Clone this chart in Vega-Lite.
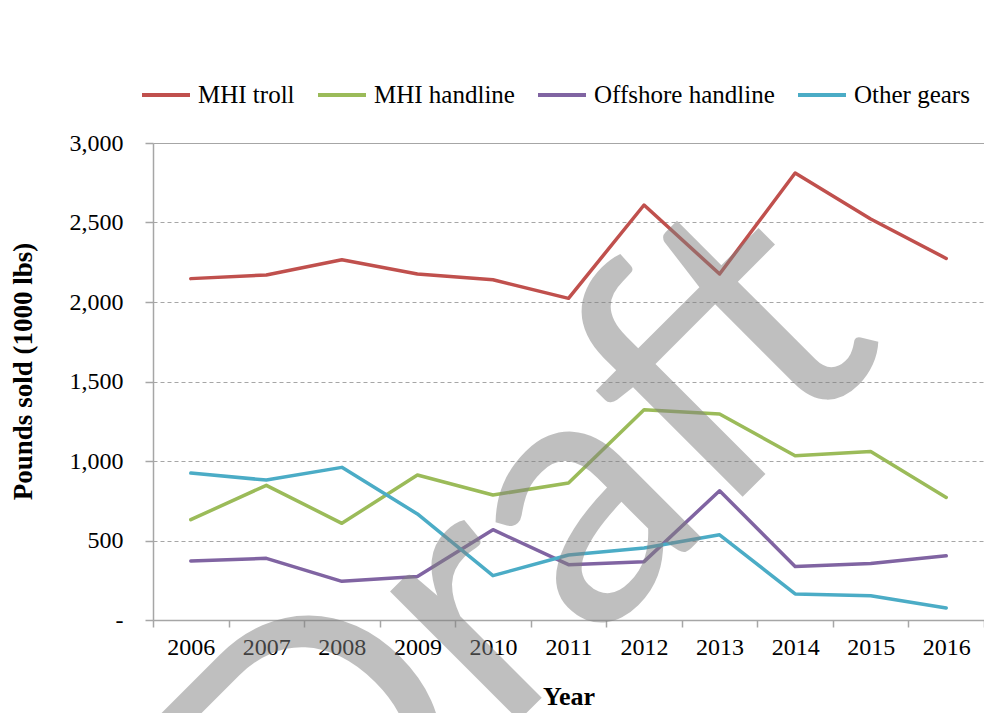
{
  "$schema": "https://vega.github.io/schema/vega-lite/v6.json",
  "width": 831,
  "height": 477,
  "autosize": {"type": "none"},
  "padding": {"left": 153, "top": 143, "right": 0, "bottom": 93},
  "background": "white",
  "config": {"view": {"stroke": null}, "font": "Liberation Serif"},
  "layer": [
    {
      "data": {
        "values": [
          {"year": "2006", "gear": "MHI troll", "pounds": 2147},
          {"year": "2007", "gear": "MHI troll", "pounds": 2170},
          {"year": "2008", "gear": "MHI troll", "pounds": 2266},
          {"year": "2009", "gear": "MHI troll", "pounds": 2176},
          {"year": "2010", "gear": "MHI troll", "pounds": 2140},
          {"year": "2011", "gear": "MHI troll", "pounds": 2023},
          {"year": "2012", "gear": "MHI troll", "pounds": 2610},
          {"year": "2013", "gear": "MHI troll", "pounds": 2176},
          {"year": "2014", "gear": "MHI troll", "pounds": 2811},
          {"year": "2015", "gear": "MHI troll", "pounds": 2522},
          {"year": "2016", "gear": "MHI troll", "pounds": 2274},
          {"year": "2006", "gear": "MHI handline", "pounds": 631},
          {"year": "2007", "gear": "MHI handline", "pounds": 847},
          {"year": "2008", "gear": "MHI handline", "pounds": 608},
          {"year": "2009", "gear": "MHI handline", "pounds": 912},
          {"year": "2010", "gear": "MHI handline", "pounds": 786},
          {"year": "2011", "gear": "MHI handline", "pounds": 862},
          {"year": "2012", "gear": "MHI handline", "pounds": 1323},
          {"year": "2013", "gear": "MHI handline", "pounds": 1296},
          {"year": "2014", "gear": "MHI handline", "pounds": 1033},
          {"year": "2015", "gear": "MHI handline", "pounds": 1060},
          {"year": "2016", "gear": "MHI handline", "pounds": 771},
          {"year": "2006", "gear": "Offshore handline", "pounds": 371},
          {"year": "2007", "gear": "Offshore handline", "pounds": 388},
          {"year": "2008", "gear": "Offshore handline", "pounds": 243},
          {"year": "2009", "gear": "Offshore handline", "pounds": 274},
          {"year": "2010", "gear": "Offshore handline", "pounds": 568},
          {"year": "2011", "gear": "Offshore handline", "pounds": 348},
          {"year": "2012", "gear": "Offshore handline", "pounds": 367},
          {"year": "2013", "gear": "Offshore handline", "pounds": 813},
          {"year": "2014", "gear": "Offshore handline", "pounds": 337},
          {"year": "2015", "gear": "Offshore handline", "pounds": 356},
          {"year": "2016", "gear": "Offshore handline", "pounds": 404},
          {"year": "2006", "gear": "Other gears", "pounds": 924},
          {"year": "2007", "gear": "Other gears", "pounds": 880},
          {"year": "2008", "gear": "Other gears", "pounds": 960},
          {"year": "2009", "gear": "Other gears", "pounds": 667},
          {"year": "2010", "gear": "Other gears", "pounds": 279},
          {"year": "2011", "gear": "Other gears", "pounds": 409},
          {"year": "2012", "gear": "Other gears", "pounds": 453},
          {"year": "2013", "gear": "Other gears", "pounds": 536},
          {"year": "2014", "gear": "Other gears", "pounds": 164},
          {"year": "2015", "gear": "Other gears", "pounds": 153},
          {"year": "2016", "gear": "Other gears", "pounds": 75}
        ]
      },
      "mark": {"type": "line", "strokeWidth": 3.5, "strokeCap": "round", "strokeJoin": "round"},
      "encoding": {
        "x": {
          "field": "year",
          "type": "ordinal",
          "bandPosition": 0.5,
          "scale": {"type": "band", "paddingInner": 0, "paddingOuter": 0},
          "axis": {
            "title": "Year",
            "titleFont": "Liberation Serif",
            "titleFontSize": 26,
            "titleFontWeight": "bold",
            "titleColor": "black",
            "titlePadding": 24,
            "labelFont": "Liberation Serif",
            "labelFontSize": 24,
            "labelColor": "black",
            "labelAngle": 0,
            "labelPadding": 8,
            "tickBand": "extent",
            "tickSize": 7,
            "tickColor": "#a6a6a6",
            "tickWidth": 1.5,
            "domainColor": "#a6a6a6",
            "domainWidth": 1.5,
            "grid": false
          }
        },
        "y": {
          "field": "pounds",
          "type": "quantitative",
          "scale": {"domain": [0, 3000], "nice": false},
          "axis": {
            "title": "Pounds sold (1000 lbs)",
            "titleFont": "Liberation Serif",
            "titleFontSize": 27,
            "titleFontWeight": "bold",
            "titleColor": "black",
            "titlePadding": 32,
            "titleY": 228,
            "values": [0, 500, 1000, 1500, 2000, 2500, 3000],
            "labelExpr": "datum.value == 0 ? '-' : format(datum.value, ',')",
            "labelFont": "Liberation Serif",
            "labelFontSize": 24,
            "labelColor": "black",
            "labelPadding": 22,
            "tickSize": 8,
            "tickColor": "#a6a6a6",
            "tickWidth": 1.5,
            "domainColor": "#a6a6a6",
            "domainWidth": 1.5,
            "grid": true,
            "gridColor": "#a6a6a6",
            "gridWidth": 1,
            "gridDash": {"condition": {"test": "datum.value == 3000 || datum.value == 0", "value": []}, "value": [4, 3]}
          }
        },
        "color": {
          "field": "gear",
          "type": "nominal",
          "sort": ["MHI troll", "MHI handline", "Offshore handline", "Other gears"],
          "scale": {
            "domain": ["MHI troll", "MHI handline", "Offshore handline", "Other gears"],
            "range": ["#C0504D", "#9BBB59", "#8064A2", "#4BACC6"]
          },
          "legend": {
            "orient": "none",
            "legendX": -13,
            "legendY": -74,
            "direction": "horizontal",
            "title": null,
            "symbolType": "stroke",
            "symbolSize": 2304,
            "symbolStrokeWidth": 4,
            "labelFont": "Liberation Serif",
            "labelFontSize": 25,
            "labelColor": "black",
            "labelLimit": 400,
            "labelOffset": 6,
            "columnPadding": 15
          }
        }
      }
    },
    {
      "data": {"values": [{"year": "2011", "pounds": -320, "label": "Draft"}]},
      "mark": {
        "type": "text",
        "font": "Lato",
        "fontSize": 360,
        "angle": -45,
        "align": "center",
        "baseline": "alphabetic",
        "dx": 45,
        "dy": 0,
        "fill": "#808080",
        "opacity": 0.5
      },
      "encoding": {
        "x": {"field": "year", "type": "ordinal", "bandPosition": 0.5},
        "y": {"field": "pounds", "type": "quantitative"},
        "text": {"field": "label"}
      }
    }
  ]
}
